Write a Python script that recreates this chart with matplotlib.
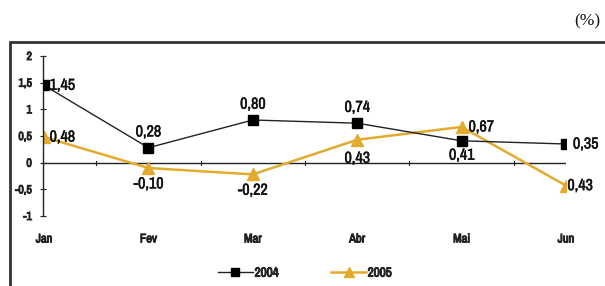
import matplotlib
matplotlib.use("Agg")
import matplotlib.pyplot as plt
from matplotlib.patches import Rectangle
from matplotlib.lines import Line2D
from matplotlib import font_manager as fm
import matplotlib.patheffects as pe

months = ["Jan", "Fev", "Mar", "Abr", "Mai", "Jun"]
s2004 = [1.45, 0.28, 0.80, 0.74, 0.41, 0.35]
s2005 = [0.48, -0.10, -0.22, 0.43, 0.67, -0.43]
yticks = [2, 1.5, 1, 0.5, 0, -0.5, -1]
ytick_labels = ["2", "1,5", "1", "0,5", "0", "-0,5", "-1"]
labels2004 = ["1,45", "0,28", "0,80", "0,74", "0,41", "0,35"]
labels2005 = ["0,48", "-0,10", "-0,22", "0,43", "0,67", "0,43"]

available = {f.name for f in fm.fontManager.ttflist}
narrow = "DejaVu Sans"
for cand in ["Liberation Sans Narrow", "Arial Narrow", "Archivo Narrow", "Roboto Condensed",
             "PT Sans Narrow", "Open Sans Condensed", "Fira Sans Condensed",
             "IBM Plex Sans Condensed", "Encode Sans Condensed"]:
    if cand in available:
        narrow = cand
        break
FONT = [narrow, "DejaVu Sans"]
GOLD = "#E3AB2E"
BOLD = [pe.withStroke(linewidth=0.7, foreground="#222222")]
SEMI = [pe.withStroke(linewidth=0.35, foreground="#111111")]

W, H = 605, 286
fig = plt.figure(figsize=(W / 100, H / 100), dpi=100)

# outer frame
frame = Rectangle((10 / W, -0.1), 1.2, 1 - 42 / H + 0.1, transform=fig.transFigure,
                  fill=False, edgecolor="#333333", linewidth=2.0)
fig.patches.append(frame)

fig.text(600 / W, 1 - 21 / H, "(%)", ha="right", va="center",
         fontsize=12.5, family=["Liberation Serif", "DejaVu Serif"], color="#111111")

ax_left, ax_right = 43, 566
ax_top, ax_bot = 56, 216
ax = fig.add_axes([ax_left / W, 1 - ax_bot / H, (ax_right - ax_left) / W, (ax_bot - ax_top) / H])
x = list(range(len(months)))
ax.set_xlim(-0.01, 5.0)
ax.set_ylim(-1, 2)
ax.patch.set_alpha(0)

for sp in ["top", "right", "bottom"]:
    ax.spines[sp].set_visible(False)
ax.spines["left"].set_color("#222222")
ax.spines["left"].set_linewidth(1.0)
ax.set_yticks(yticks)
ax.set_yticklabels(ytick_labels, family=FONT, fontsize=8.5, color="#222222")
for t in ax.get_yticklabels():
    t.set_path_effects(BOLD)
ax.tick_params(axis="y", direction="inout", length=4, width=0.8, pad=6, colors="#222222")
ax.set_xticks([])

# zero line with category ticks between points
ax.axhline(0, color="#222222", linewidth=1.0, zorder=1)
for i in range(len(months) - 1):
    ax.plot([i + 0.5, i + 0.5], [-0.04, 0.04], color="#222222", linewidth=0.8, zorder=1)

ax.plot(x, s2004, color="#222222", linewidth=1.0, marker="s", markersize=7,
        markerfacecolor="black", markeredgecolor="black", zorder=3)
ax.plot(x, s2005, color=GOLD, linewidth=1.8, marker="^", markersize=8,
        markerfacecolor=GOLD, markeredgecolor=GOLD, zorder=2)

# x category labels
for i, m in enumerate(months):
    ax.text(i, -1.43, m, ha="center", va="center", family=FONT, fontsize=9,
            color="#222222", clip_on=False, path_effects=BOLD)

lab_kw = dict(family=FONT, fontsize=11.5, color="#111111", zorder=4, path_effects=SEMI)
# 2004 labels: (dx points, dy points, ha, va)
pos2004 = [(4, 0, "left", "center"), (0, 6, "center", "bottom"), (0, 6, "center", "bottom"),
           (0, 6, "center", "bottom"), (0, -5, "center", "top"), (5, 0, "left", "center")]
pos2005 = [(4, 0, "left", "center"), (0, -6, "center", "top"), (0, -6, "center", "top"),
           (0, -8, "center", "top"), (5, 0, "left", "center"), (1, 0, "left", "center")]
for i in x:
    dx, dy, ha, va = pos2004[i]
    ax.annotate(labels2004[i], (i, s2004[i]), xytext=(dx, dy), textcoords="offset points",
                ha=ha, va=va, annotation_clip=False, **lab_kw)
    dx, dy, ha, va = pos2005[i]
    ax.annotate(labels2005[i], (i, s2005[i]), xytext=(dx, dy), textcoords="offset points",
                ha=ha, va=va, annotation_clip=False, **lab_kw)

handles = [Line2D([], [], color="#222222", linewidth=1.0, marker="s", markersize=6,
                  markerfacecolor="black", markeredgecolor="black"),
           Line2D([], [], color=GOLD, linewidth=1.8, marker="^", markersize=7,
                  markerfacecolor=GOLD, markeredgecolor=GOLD)]
leg = fig.legend(handles, ["2004", "2005"], loc="center", bbox_to_anchor=(305 / W, 1 - 273 / H),
                 ncol=2, frameon=False, handlelength=2.6, columnspacing=4.0, handletextpad=0.15,
                 borderaxespad=0, borderpad=0,
                 prop={"family": FONT, "size": 9.5})
for t in leg.get_texts():
    t.set_color("#222222")
    t.set_path_effects(BOLD)

fig.savefig("out.png", dpi=100)
